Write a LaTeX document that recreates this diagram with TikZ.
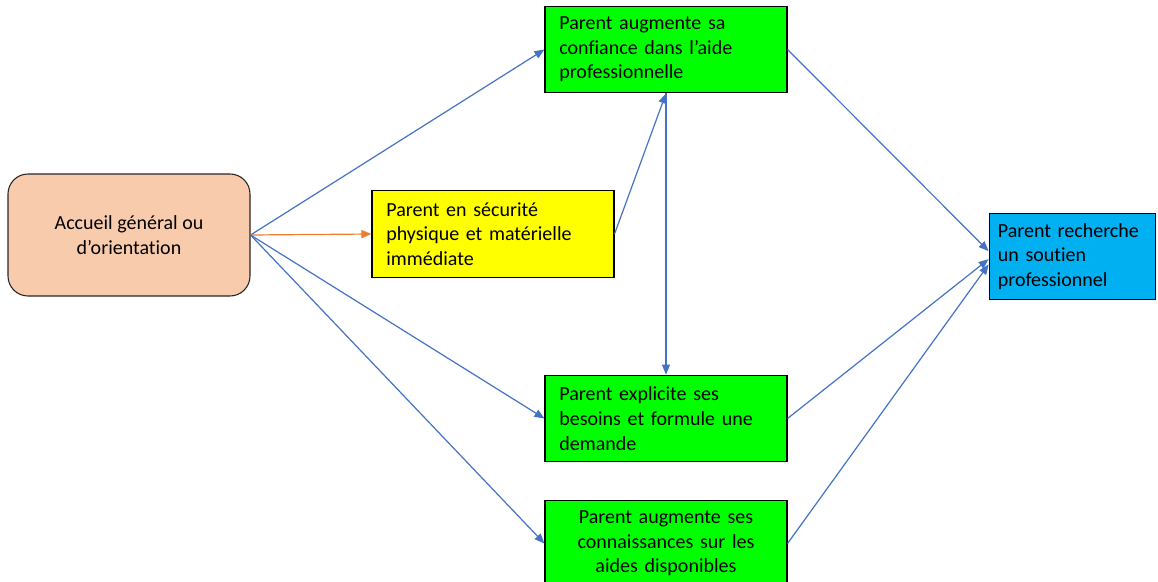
\documentclass[tikz,border=0pt]{standalone}
\usepackage{fontspec}
\setmainfont{Carlito}[Ligatures=NoCommon]
\usetikzlibrary{arrows.meta}
\definecolor{peach}{HTML}{F8CBAD}
\definecolor{vert}{HTML}{00FF00}
\definecolor{jaune}{HTML}{FFFF00}
\definecolor{bleu}{HTML}{00B0F0}
\definecolor{fleche}{HTML}{4472C4}
\definecolor{orange}{HTML}{ED7D31}
\begin{document}
\begin{tikzpicture}[x=0.75pt, y=-0.75pt,
  every node/.style={font=\fontsize{15}{18.5}\selectfont},
  box/.style={draw=black, line width=0.8pt, minimum width=181.5pt, minimum height=65pt, align=left, text width=160pt, inner sep=0pt},
  link/.style={draw=fleche, line width=0.9pt, -{Triangle[length=7.5pt, width=6pt]}}]

\useasboundingbox (0,0) rectangle (1158,582);

\node [draw=black!85, line width=0.8pt, fill=peach, rounded corners=15pt, minimum width=181.5pt, minimum height=91.5pt, align=center] (accueil) at (129,235) {Accueil général ou\\d’orientation};

\node [box, fill=jaune] (securite) at (493,234) {Parent en sécurité\\physique et matérielle\\immédiate};
\node [box, fill=vert] (confiance) at (666,49.5) {Parent augmente sa\\confiance dans l’aide\\professionnelle};
\node [box, fill=vert] (besoins) at (666,418.5) {Parent explicite ses\\besoins et formule une\\demande};
\node [box, fill=vert, align=center] (aides) at (666,543.5) {Parent augmente ses\\connaissances sur les\\aides disponibles};
\node [box, fill=bleu, minimum width=125pt, text width=112pt] (soutien) at (1072.5,256.5) {Parent recherche\\un soutien\\professionnel};

\draw [link] (accueil.east) -- (confiance.west);
\draw [link, draw=orange] (accueil.east) -- (securite.west);
\draw [link] (accueil.east) -- (besoins.west);
\draw [link] (accueil.east) -- (aides.west);

\draw [link] (securite.east) -- (confiance.south);
\draw [link] (confiance.south) -- (besoins.north);

\draw [link] (confiance.east) -- ([yshift=4pt]soutien.west);
\draw [link] (besoins.east) -- ([yshift=-2pt]soutien.west);
\draw [link] (aides.east) -- ([yshift=-6pt]soutien.west);
\end{tikzpicture}
\end{document}
